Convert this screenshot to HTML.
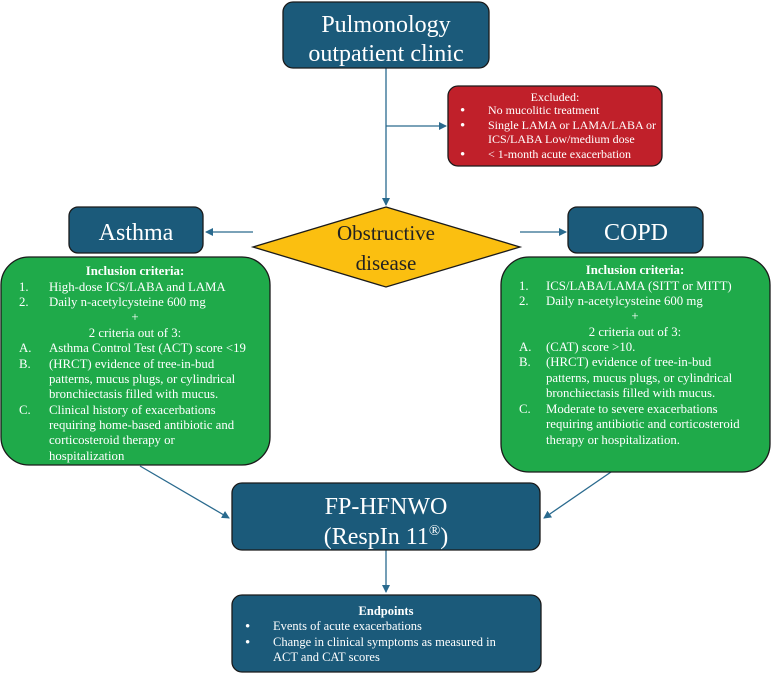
<!DOCTYPE html>
<html><head><meta charset="utf-8"><style>
html,body{margin:0;padding:0;background:#fff;}
svg{display:block;font-family:"Liberation Serif",serif;}
</style></head><body>
<svg width="772" height="674" viewBox="0 0 772 674" xmlns="http://www.w3.org/2000/svg">
<defs><marker id="a" markerWidth="8" markerHeight="8" refX="7" refY="4" orient="auto" markerUnits="userSpaceOnUse"><path d="M0,0 L8,4 L0,8 Z" fill="#2a6a8e"/></marker></defs>
<g stroke="#2a6a8e" stroke-width="1.3" fill="none">
<line x1="386" y1="68" x2="386" y2="205" marker-end="url(#a)"/>
<line x1="386" y1="126" x2="446" y2="126" marker-end="url(#a)"/>
<line x1="253" y1="232" x2="206" y2="232" marker-end="url(#a)"/>
<line x1="520" y1="232" x2="566" y2="232" marker-end="url(#a)"/>
<line x1="140" y1="466" x2="229" y2="518" marker-end="url(#a)"/>
<line x1="611" y1="472" x2="544" y2="518" marker-end="url(#a)"/>
<line x1="386" y1="550" x2="386" y2="592" marker-end="url(#a)"/>
</g>
<g stroke="#1a1a1a" stroke-width="1.3">
<rect x="283" y="2" width="206" height="66" rx="10" fill="#1b5a7a"/>
<rect x="448" y="86" width="214" height="80" rx="10" fill="#c0202a"/>
<polygon points="386,207 520,247 386,287 253,247" fill="#fbbf10"/>
<rect x="69" y="207" width="134" height="46" rx="9" fill="#1b5a7a"/>
<rect x="568" y="207" width="135" height="46" rx="9" fill="#1b5a7a"/>
<rect x="1" y="257" width="269" height="208" rx="28" fill="#1faa4a"/>
<rect x="501" y="257" width="269" height="215" rx="28" fill="#1faa4a"/>
<rect x="232" y="483" width="308" height="67" rx="10" fill="#1b5a7a"/>
<rect x="232" y="595" width="309" height="77" rx="10" fill="#1b5a7a"/>
</g>
<g fill="#fff" text-anchor="middle" font-size="24">
<text x="386" y="32">Pulmonology</text>
<text x="386" y="61">outpatient clinic</text>
<text x="136" y="240">Asthma</text>
<text x="636" y="240">COPD</text>
<text x="386" y="514">FP-HFNWO</text>
<text x="386" y="544">(RespIn 11<tspan font-size="15" dy="-9">®</tspan><tspan dy="9">)</tspan></text>
</g>
<g fill="#222" text-anchor="middle" font-size="21">
<text x="386" y="240">Obstructive</text>
<text x="386" y="270">disease</text>
</g>
<g fill="#fff" font-size="12">
<text x="555" y="101" text-anchor="middle">Excluded:</text>
<text x="460" y="115" font-size="15">•</text><text x="488" y="114">No mucolitic treatment</text>
<text x="460" y="130" font-size="15">•</text><text x="488" y="129">Single LAMA or LAMA/LABA or</text>
<text x="488" y="143">ICS/LABA Low/medium dose</text>
<text x="460" y="159" font-size="15">•</text><text x="488" y="158">&lt; 1-month acute exacerbation</text>
</g>
<g fill="#fff" font-size="12.8">
<text x="135" y="275" text-anchor="middle" font-weight="bold">Inclusion criteria:</text>
<text x="19" y="291">1.</text><text x="49" y="291">High-dose ICS/LABA and LAMA</text>
<text x="19" y="306">2.</text><text x="49" y="306">Daily n-acetylcysteine 600 mg</text>
<text x="135" y="321" text-anchor="middle">+</text>
<text x="135" y="337" text-anchor="middle">2 criteria out of 3:</text>
<text x="19" y="352">A.</text><text x="49" y="352">Asthma Control Test (ACT) score &lt;19</text>
<text x="19" y="368">B.</text><text x="49" y="368"> (HRCT) evidence of tree-in-bud</text>
<text x="49" y="383">patterns, mucus plugs, or cylindrical</text>
<text x="49" y="398">bronchiectasis filled with mucus.</text>
<text x="19" y="414">C.</text><text x="49" y="414">Clinical history of exacerbations</text>
<text x="49" y="429">requiring home-based antibiotic and</text>
<text x="49" y="444">corticosteroid therapy or</text>
<text x="49" y="460">hospitalization</text>
</g>
<g fill="#fff" font-size="12.8">
<text x="635" y="274" text-anchor="middle" font-weight="bold">Inclusion criteria:</text>
<text x="519" y="290">1.</text><text x="546" y="290">ICS/LABA/LAMA (SITT or MITT)</text>
<text x="519" y="305">2.</text><text x="546" y="305">Daily n-acetylcysteine 600 mg</text>
<text x="635" y="320" text-anchor="middle">+</text>
<text x="635" y="336" text-anchor="middle">2 criteria out of 3:</text>
<text x="519" y="351">A.</text><text x="546" y="351">(CAT) score &gt;10.</text>
<text x="519" y="366">B.</text><text x="546" y="366">(HRCT) evidence of tree-in-bud</text>
<text x="546" y="382">patterns, mucus plugs, or cylindrical</text>
<text x="546" y="397">bronchiectasis filled with mucus.</text>
<text x="519" y="413">C.</text><text x="546" y="413">Moderate to severe exacerbations</text>
<text x="546" y="428">requiring antibiotic and corticosteroid</text>
<text x="546" y="444"> therapy or hospitalization.</text>
</g>
<g fill="#fff" font-size="12.5">
<text x="386" y="615" text-anchor="middle" font-weight="bold">Endpoints</text>
<text x="245" y="631" font-size="15">•</text><text x="273" y="630">Events of acute exacerbations</text>
<text x="245" y="647" font-size="15">•</text><text x="273" y="646">Change in clinical symptoms as measured in</text>
<text x="273" y="661">ACT and CAT scores</text>
</g>
</svg>
</body></html>
